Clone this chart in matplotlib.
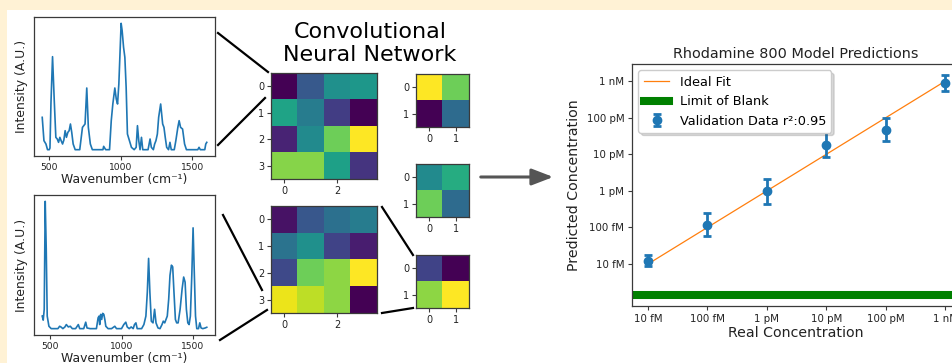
import matplotlib
matplotlib.use("Agg")
import matplotlib.pyplot as plt
from matplotlib.patches import Rectangle, FancyArrowPatch
from matplotlib.lines import Line2D

# ---------------- data ----------------
top_wn = [451, 463, 477, 488, 500, 505, 512, 523, 535, 546, 556, 565, 574, 583, 593, 602, 611, 620,
          630, 639, 648, 657, 667, 681, 713, 732, 750, 762, 773, 787, 801, 875, 880, 894, 921, 933,
          944, 958, 968, 977, 986, 1002, 1009, 1019, 1028, 1037, 1046, 1060, 1074, 1093, 1107, 1116,
          1125, 1134, 1144, 1153, 1190, 1204, 1213, 1227, 1236, 1245, 1255, 1264, 1278, 1292, 1301,
          1310, 1320, 1333, 1343, 1352, 1373, 1384, 1398, 1407, 1417, 1431, 1445, 1458, 1537, 1546,
          1555, 1586, 1593, 1600]
top_int = [97, 27, 17, 0, 0, 5, 140, 279, 147, 37, 32, 22, 37, 27, 17, 29, 57, 37,
           52, 57, 77, 52, 17, 0, 0, 67, 77, 185, 67, 17, 0, 0, 10, 0, 0, 87,
           137, 185, 152, 137, 197, 379, 357, 307, 277, 187, 47, 27, 7, 0, 7, 72,
           27, 0, 37, 0, 0, 32, 7, 0, 17, 27, 47, 97, 137, 77, 67,
           37, 7, 0, 22, 0, 0, 27, 67, 87, 67, 62, 17, 0, 0, 7,
           0, 0, 17, 22]

bot_wn = [444, 451, 458, 465, 472, 479, 491, 507, 531, 554, 566, 575, 589, 603, 613, 627, 641, 655,
          678, 697, 707, 735, 749, 758, 780, 812, 824, 836, 843, 847, 854, 861, 868, 876, 883, 890,
          906, 930, 953, 965, 1000, 1016, 1030, 1040, 1054, 1068, 1082, 1091, 1101, 1110, 1141, 1157,
          1171, 1181, 1190, 1199, 1209, 1221, 1232, 1242, 1256, 1270, 1284, 1293, 1303, 1312, 1321,
          1331, 1340, 1350, 1359, 1368, 1378, 1387, 1397, 1411, 1425, 1436, 1446, 1455, 1465, 1474,
          1483, 1493, 1502, 1509, 1519, 1528, 1540, 1549, 1558, 1570, 1587, 1598]
bot_int = [37, 25, 57, 375, 237, 37, 7, 0, 0, 0, 7, 5, 0, 5, 12, 5, 7, 0,
           0, 12, 0, 0, 19, 2, 0, 0, 0, 32, 37, 12, 42, 27, 45, 42, 27, 7,
           0, 0, 7, 0, 0, 12, 19, 5, 0, 5, 0, 12, 17, 0, 0, 12,
           37, 107, 207, 107, 22, 17, 57, 17, 2, 0, 12, 22, 17, 27, 37,
           87, 157, 187, 182, 107, 27, 17, 17, 57, 117, 152, 137, 57, 17, 12,
           37, 157, 297, 187, 37, 0, 0, 17, 2, 0, 2, 4]

conv_a = [[0.00, 0.28, 0.50, 0.53],
          [0.58, 0.42, 0.18, 0.00],
          [0.10, 0.48, 0.78, 1.00],
          [0.82, 0.82, 0.57, 0.15]]
conv_b = [[0.05, 0.27, 0.37, 0.42],
          [0.38, 0.50, 0.20, 0.08],
          [0.22, 0.78, 0.83, 1.00],
          [0.97, 0.90, 0.83, 0.00]]
pool_a = [[1.00, 0.78], [0.00, 0.35]]
pool_b = [[0.48, 0.62], [0.78, 0.35]]
pool_c = [[0.20, 0.00], [0.83, 1.00]]

conc_real = [1e-14, 1e-13, 1e-12, 1e-11, 1e-10, 1e-9]
conc_pred = [1.23e-14, 1.2e-13, 0.96e-12, 1.84e-11, 0.47e-10, 0.92e-9]
err_low = [0.36e-14, 0.6e-13, 0.52e-12, 1.0e-11, 0.245e-10, 0.39e-9]
err_high = [0.53e-14, 1.26e-13, 1.13e-12, 2.23e-11, 0.53e-10, 0.6e-9]
blank_level = 1.4e-15
conc_ticks = [1e-14, 1e-13, 1e-12, 1e-11, 1e-10, 1e-9]
conc_labels = ['10 fM', '100 fM', '1 pM', '10 pM', '100 pM', '1 nM']

# ---------------- figure ----------------
W, H = 953, 363
fig = plt.figure(figsize=(W / 100, H / 100), dpi=100, facecolor='white')
cream = '#FFF2D5'
fig.patches.append(Rectangle((0, 1 - 10 / H), 1, 10 / H, transform=fig.transFigure,
                             facecolor=cream, edgecolor='none', zorder=-10))
fig.patches.append(Rectangle((0, 0), 7 / W, 1, transform=fig.transFigure,
                             facecolor=cream, edgecolor='none', zorder=-10))


def box(left, top, right, bottom):
    return [left / W, 1 - bottom / H, (right - left) / W, (bottom - top) / H]


spine_c = '#3a3a3a'
text_c = '#222222'


def style(ax):
    for s in ax.spines.values():
        s.set_color(spine_c)
        s.set_linewidth(0.9)
    ax.tick_params(colors=spine_c, labelcolor=text_c, length=3, width=0.8)


# spectra
for (wn, inten, pos) in [(top_wn, top_int, box(34, 17, 215, 156)),
                         (bot_wn, bot_int, box(34, 195, 215, 335))]:
    ax = fig.add_axes(pos)
    ax.plot(wn, inten, color='#1f77b4', lw=1.2)
    ax.set_yticks([])
    ax.set_xticks([500, 1000, 1500])
    style(ax)
    ax.tick_params(labelsize=6.6, pad=2)
    ax.set_xlabel('Wavenumber (cm\u207b\u00b9)', fontsize=8.9, color=text_c, labelpad=1)
    ax.set_ylabel('Intensity (A.U.)', fontsize=8.9, color=text_c, labelpad=4)

# conv layers
for (mat, pos) in [(conv_a, box(271, 73, 377, 179)), (conv_b, box(271, 206, 377, 313))]:
    ax = fig.add_axes(pos)
    ax.imshow(mat, cmap='viridis', aspect='auto', vmin=0, vmax=1)
    ax.set_xticks([0, 2])
    ax.set_yticks([0, 1, 2, 3])
    style(ax)
    ax.tick_params(labelsize=7, pad=2)

for (mat, pos) in [(pool_a, box(416, 74, 469, 127)), (pool_b, box(416, 164, 469, 217)),
                   (pool_c, box(416, 255, 469, 308))]:
    ax = fig.add_axes(pos)
    ax.imshow(mat, cmap='viridis', aspect='auto', vmin=0, vmax=1)
    ax.set_xticks([0, 1])
    ax.set_yticks([0, 1])
    style(ax)
    ax.tick_params(labelsize=7, pad=2)

fig.text(370 / W, 1 - 43.5 / H, 'Convolutional\nNeural Network', ha='center', va='center',
         fontsize=16, color='black', linespacing=1.15)

# connector lines
for (x1, y1, x2, y2) in [(218, 33, 268, 72), (218, 145, 265, 98), (223, 215, 262, 290),
                         (220, 340, 267, 310), (382, 207, 413, 255), (382, 313, 413, 308)]:
    fig.add_artist(Line2D([x1 / W, x2 / W], [1 - y1 / H, 1 - y2 / H], transform=fig.transFigure,
                          color='black', lw=1.6))

fig.add_artist(FancyArrowPatch((478 / W, 1 - 177 / H), (556 / W, 1 - 177 / H),
                               transform=fig.transFigure,
                               arrowstyle='-|>,head_length=1.3,head_width=0.5',
                               mutation_scale=10, lw=2.2, color='#555555'))

# prediction plot
ax = fig.add_axes(box(632, 64, 960, 306))
ax.set_xscale('log')
ax.set_yscale('log')
ax.plot(conc_real, conc_real, color='#ff7f0e', lw=0.9, label='Ideal Fit')
ax.axhline(blank_level, color='green', lw=5.8, label='Limit of Blank')
ax.errorbar(conc_real, conc_pred, yerr=[err_low, err_high], fmt='o', color='#1f77b4',
            ms=6, elinewidth=2, capsize=3, capthick=2, label='Validation Data r\u00b2:0.95')
ax.set_xlim(10 ** -14.27, 10 ** -8.75)
ax.set_ylim(10 ** -15.15, 10 ** -8.53)
ax.set_xticks(conc_ticks)
ax.set_xticklabels(conc_labels)
ax.set_yticks(conc_ticks)
ax.set_yticklabels(conc_labels)
ax.minorticks_off()
style(ax)
ax.tick_params(labelsize=7.4, pad=2.5)
ax.set_xlabel('Real Concentration', fontsize=10.2, color=text_c, labelpad=2)
ax.set_ylabel('Predicted Concentration', fontsize=10.2, color=text_c, labelpad=4)
ax.set_title('Rhodamine 800 Model Predictions', fontsize=10.4, color=text_c, pad=4)
ax.legend(loc='upper left', fontsize=9.3, shadow={'alpha': 0.2}, fancybox=True,
          framealpha=1, edgecolor='#cccccc', borderaxespad=0.5)

fig.savefig('out.png', dpi=100)
